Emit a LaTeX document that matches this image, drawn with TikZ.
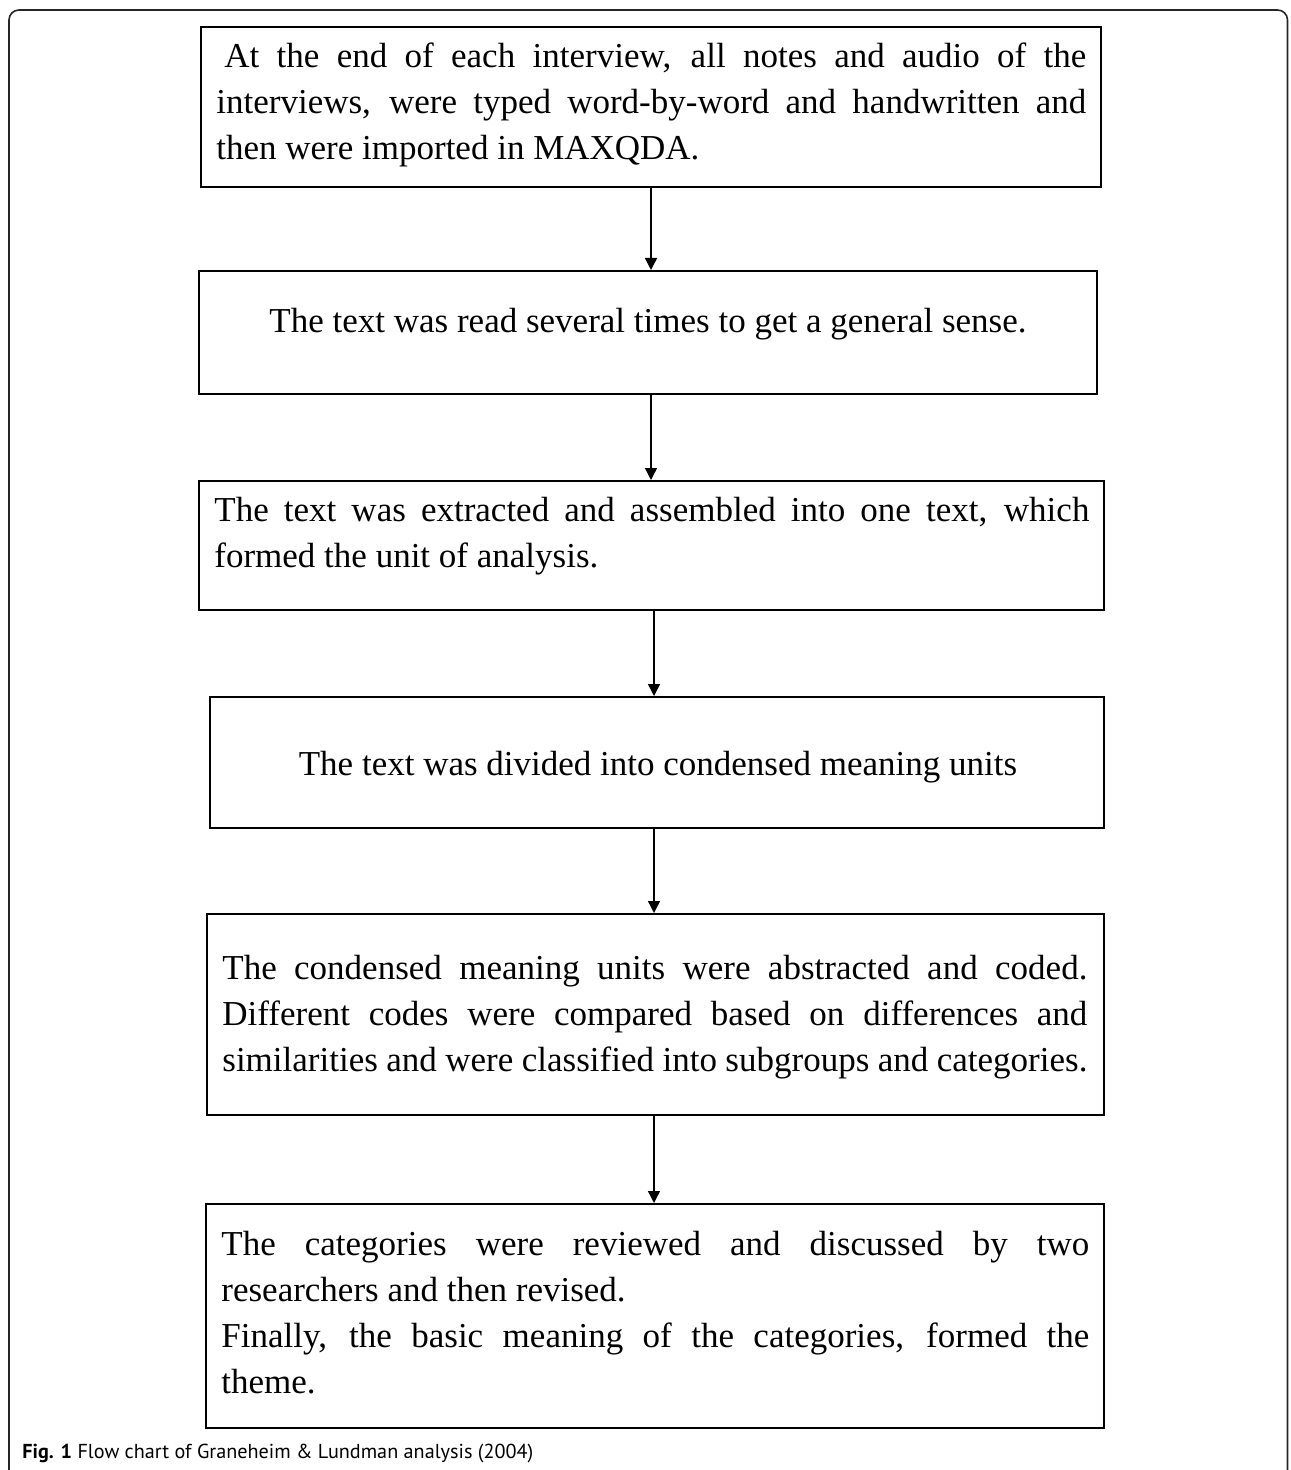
\documentclass[tikz,border=0pt]{standalone}
\usepackage{fontspec}
\setmainfont{Liberation Serif}
\newfontfamily\capfont{PT Sans}
\usetikzlibrary{arrows.meta}
\tikzset{
  box/.style={draw=black, line width=1pt, inner sep=0pt},
  txt/.style={inner sep=0pt, font=\fontsize{17.5}{23}\selectfont},
  jtxt/.style={txt, align=justify, anchor=base west},
  ctxt/.style={txt, anchor=base},
  arr/.style={draw=black, line width=0.7pt, -{Triangle[width=6pt,length=6pt]}},
  frame/.style={draw=black!85, line width=0.8pt, rounded corners=5pt}
}
\begin{document}
\begin{tikzpicture}[x=0.5pt,y=-0.5pt]
\useasboundingbox (0,0) rectangle (1290,1470);
\draw[frame] (9,1472) -- (9,10) -- (1287.5,10) -- (1287.5,1472);

\node[box, minimum width=450pt, minimum height=80pt] (b1) at (651,107) {};
\node[box, minimum width=449pt, minimum height=61.5pt] (b2) at (648,332.5) {};
\node[box, minimum width=452.5pt, minimum height=64.5pt] (b3) at (651.5,545.5) {};
\node[box, minimum width=447pt, minimum height=65.5pt] (b4) at (657,762.5) {};
\node[box, minimum width=448.5pt, minimum height=100.5pt] (b5) at (655.5,1014.5) {};
\node[box, minimum width=449pt, minimum height=112pt] (b6) at (655,1316) {};

\tolerance=10000 \hbadness=10000
\node[jtxt, text width=435pt] (t1) at (216,68) {\hspace*{4pt}At the end of each interview, all notes and audio of the\linebreak interviews, were typed word-by-word and handwritten and\linebreak then were imported in MAXQDA.};
\node[ctxt] (t2) at (648,333) {The text was read several times to get a general sense.};
\node[jtxt, text width=437.5pt] (t3) at (214,521) {The text was extracted and assembled into one text, which\linebreak formed the unit of analysis.};
\node[ctxt] (t4) at (658,775) {The text was divided into condensed meaning units};
\node[jtxt, text width=432.5pt] (t5) at (222,979) {The condensed meaning units were abstracted and coded.\linebreak Different codes were compared based on differences and\linebreak similarities and were classified into subgroups and categories.};
\node[jtxt, text width=434pt] (t6) at (221,1255) {The categories were reviewed and discussed by two\linebreak researchers and then revised.\par Finally, the basic meaning of the categories, formed the\linebreak theme.};

\draw[arr] (b1.south) -- (b1.south |- b2.north);
\draw[arr] ([xshift=1.5pt]b2.south) -- ([xshift=1.5pt]b2.south |- b3.north);
\draw[arr] ([xshift=1.25pt]b3.south) -- ([xshift=1.25pt]b3.south |- b4.north);
\draw[arr] ([xshift=-1.5pt]b4.south) -- ([xshift=-1.5pt]b4.south |- b5.north);
\draw[arr] ([xshift=-0.75pt]b5.south) -- ([xshift=-0.75pt]b5.south |- b6.north);

\node[anchor=base west, inner sep=0pt, font=\capfont\fontsize{10.1}{12}\selectfont] (cap) at (22,1458) {\textbf{Fig. 1} Flow chart of Graneheim \& Lundman analysis (2004)};
\end{tikzpicture}
\end{document}
